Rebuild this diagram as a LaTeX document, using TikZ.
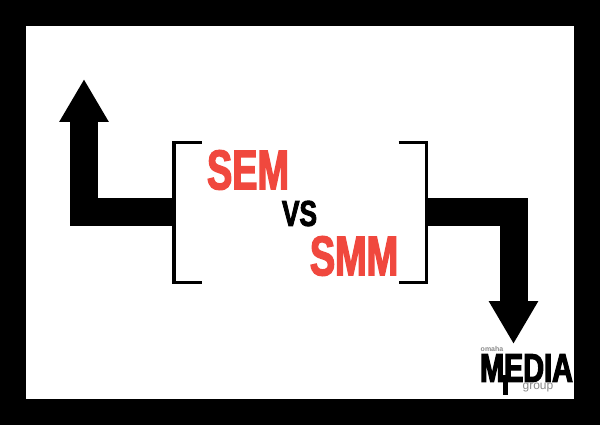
\documentclass[tikz,border=0pt]{standalone}
\usepackage{fontspec}
\usetikzlibrary{arrows.meta}
\setmainfont{Liberation Sans}
\newfontfamily\headfont[FakeStretch=0.675,FakeBold=2.4]{Liberation Sans Bold}
\newfontfamily\vsfont[FakeStretch=0.73,FakeBold=2.4]{Liberation Sans Bold}
\newfontfamily\mediafont[FakeStretch=0.72,FakeBold=3]{Liberation Sans Bold}
\definecolor{semred}{HTML}{F0483E}
\definecolor{logogray}{HTML}{8A8A8A}
\tikzset{
  bigarrow/.style={line width=28pt,line join=miter,-{Triangle[length=43pt,width=46.5pt]}},
  bracketline/.style={line width=2.4pt,line join=miter},
  word/.style={inner sep=0pt,outer sep=0pt,anchor=center},
  redword/.style={word,text=semred,font=\headfont\fontsize{56}{56}\selectfont},
}
\begin{document}
\begin{tikzpicture}[x=1pt,y=-1pt]
\useasboundingbox (0,0) rectangle (600,425);
\fill[black] (0,0) rectangle (600,425);
\fill[white] (26,26) rectangle (574,399);
% centre box
\node[minimum width=252pt,minimum height=140pt,inner sep=0pt,outer sep=0pt] (box) at (300,212) {};
\coordinate (lefttip) at (84,79);
\coordinate (righttip) at (513.5,344);
% connectors
\draw[bigarrow] (box.west) -| (lefttip);
\draw[bigarrow] (box.east) -| (righttip);
% brackets
\draw[bracketline] (201.5,142.4) -- (174,142.4) -- (174,282.4) -- (201.5,282.4);
\draw[line width=4pt] (174,141.2) -- (174,283.6);
\draw[bracketline] (398.5,142.4) -- (426.5,142.4) -- (426.5,282.4) -- (398.5,282.4);
\draw[line width=3pt] (426.5,141.2) -- (426.5,283.6);
% words
\node[redword] (sem) at (248,170) {SEM};
\node[redword] (smm) at (354,256) {SMM};
\node[word,font=\vsfont\fontsize{36}{36}\selectfont] (vs) at (299.5,213.5) {VS};
% logo
\node[word,font=\fontsize{7}{7}\selectfont\bfseries,text=logogray] (omaha) at (492,348.5) {omaha};
\node[word,font=\mediafont\fontsize{40}{40}\selectfont] (media) at (526.5,368) {MEDIA};
\fill[black] (503,375) rectangle (508,395);
\node[word,font=\fontsize{12}{12}\selectfont,text=logogray] (group) at (538,388) {group};
\end{tikzpicture}
\end{document}
